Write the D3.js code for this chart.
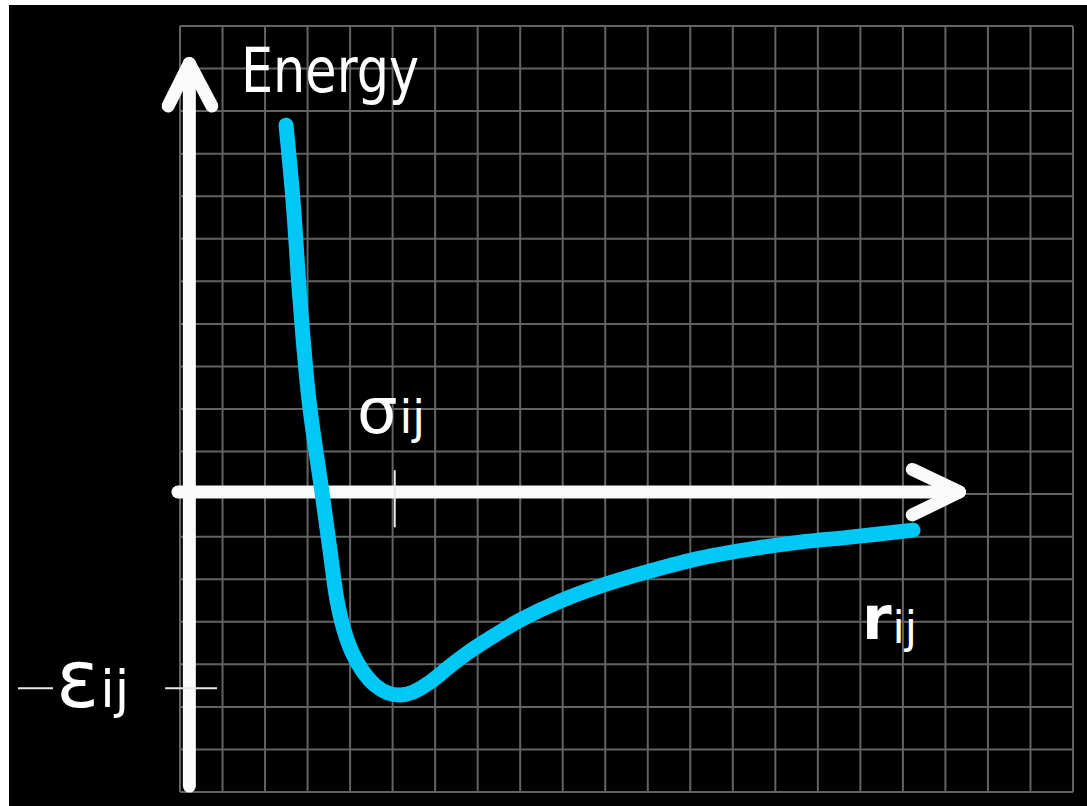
<!DOCTYPE html>
<html>
<head>
<meta charset="utf-8">
<script src="https://cdn.jsdelivr.net/npm/d3@7"></script>
<style>
  html, body { margin: 0; padding: 0; background: #ffffff; }
  svg { display: block; }
</style>
</head>
<body>
<svg id="chart" width="1087" height="806"></svg>
<script>
// ---- data (grid units: x = distance r, y = energy) ----
const curveR = [2.493, 2.657, 2.822, 3.033, 3.339, 3.527, 3.692, 3.857, 4.045, 4.280, 4.586, 4.891, 5.174, 5.479, 5.879, 6.349, 6.820, 7.408, 7.996, 8.936, 9.877, 11.053, 12.229, 13.405, 14.581, 15.756, 17.238];
const curveE = [8.671, 6.909, 4.559, 2.209, 0.047, -1.316, -2.491, -3.196, -3.713, -4.136, -4.488, -4.676, -4.723, -4.653, -4.418, -4.042, -3.690, -3.313, -2.961, -2.514, -2.162, -1.809, -1.504, -1.292, -1.128, -1.010, -0.846];
const gridCols = d3.range(0, 22);      // vertical grid lines
const gridRows = d3.range(-7, 12);     // horizontal grid lines
const sigmaR = 5.05;                   // sigma tick position
const epsE = -4.56;                    // -epsilon tick position
const yLabel = "Energy";
const xLabel = ["r", "ij"];
const sigmaLabel = ["σ", "ij"];
const epsLabel = ["−", "ε", "ij"];

// ---- layout ----
const svg = d3.select("#chart");
const W = 1087, H = 806;
const x = d3.scaleLinear().domain([0, 21]).range([180, 1073]);
const y = d3.scaleLinear().domain([-7, 11]).range([792, 26]);

svg.append("rect").attr("x", 9).attr("y", 5).attr("width", W - 9).attr("height", H - 5).attr("fill", "#000");

// grid
const g = svg.append("g").attr("stroke", "#636363").attr("stroke-width", 2);
g.selectAll("line.v").data(gridCols).join("line").attr("class", "v")
  .attr("x1", d => x(d)).attr("x2", d => x(d)).attr("y1", y(11)).attr("y2", y(-7));
g.selectAll("line.h").data(gridRows).join("line").attr("class", "h")
  .attr("y1", d => y(d)).attr("y2", d => y(d)).attr("x1", x(0)).attr("x2", x(21));

// axes
const axisX0 = 0.22;   // grid position of the energy axis
const axisY0 = 0.05;   // grid position of the r axis
const ax = svg.append("g").attr("stroke", "#fafafa").attr("stroke-width", 13)
  .attr("stroke-linecap", "round").attr("stroke-linejoin", "round").attr("fill", "none");
const line = d3.line().x(d => x(d[0])).y(d => y(d[1]));
ax.append("path").attr("d", line([[axisX0, -6.86], [axisX0, 10.12]]));
ax.append("path").attr("d", line([[-0.28, 9.12], [axisX0, 10.12], [0.75, 9.12]]));
ax.append("path").attr("d", line([[-0.05, axisY0], [18.33, axisY0]]));
ax.append("path").attr("d", line([[17.22, 0.58], [18.33, axisY0], [17.22, -0.49]]));

// thin ticks
const tk = svg.append("g").attr("stroke", "#e8e8e8").attr("stroke-width", 2);
tk.append("line").attr("x1", x(sigmaR)).attr("x2", x(sigmaR)).attr("y1", y(0.56)).attr("y2", y(-0.78));
tk.append("line").attr("x1", x(-0.35)).attr("x2", x(0.87)).attr("y1", y(epsE)).attr("y2", y(epsE));
tk.append("line").attr("x1", 18).attr("x2", 53).attr("y1", y(epsE)).attr("y2", y(epsE));

// curve
svg.append("path")
  .attr("d", d3.line().curve(d3.curveCatmullRom.alpha(0.5))
    .x((d, i) => x(curveR[i])).y((d, i) => y(curveE[i]))(curveR))
  .attr("fill", "none").attr("stroke", "#00c8f6").attr("stroke-width", 15)
  .attr("stroke-linecap", "round").attr("stroke-linejoin", "round");

// labels
const font = "'Comic Sans MS', 'DejaVu Sans', sans-serif";
svg.append("text").attr("x", 241).attr("y", 92).attr("fill", "#fff")
  .attr("font-family", font).attr("font-size", 62)
  .attr("textLength", 178).attr("lengthAdjust", "spacingAndGlyphs").text(yLabel);

const sl = svg.append("text").attr("x", 357).attr("y", 433).attr("fill", "#fff").attr("font-family", font);
sl.append("tspan").attr("font-size", 64).text(sigmaLabel[0]);
sl.append("tspan").attr("font-size", 46).attr("dx", 2).text(sigmaLabel[1]);

const xl = svg.append("text").attr("x", 862).attr("y", 639).attr("fill", "#fff").attr("font-family", font);
xl.append("tspan").attr("font-size", 60).attr("font-weight", "bold").text(xLabel[0]);
xl.append("tspan").attr("font-size", 44).attr("dx", 1).attr("dy", 4).text(xLabel[1]);

const el = svg.append("text").attr("x", 56).attr("y", 707).attr("fill", "#fff").attr("font-family", font);
el.append("tspan").attr("font-size", 80).text(epsLabel[1]);
el.append("tspan").attr("font-size", 52).attr("dx", 1).text(epsLabel[2]);
</script>
</body>
</html>
